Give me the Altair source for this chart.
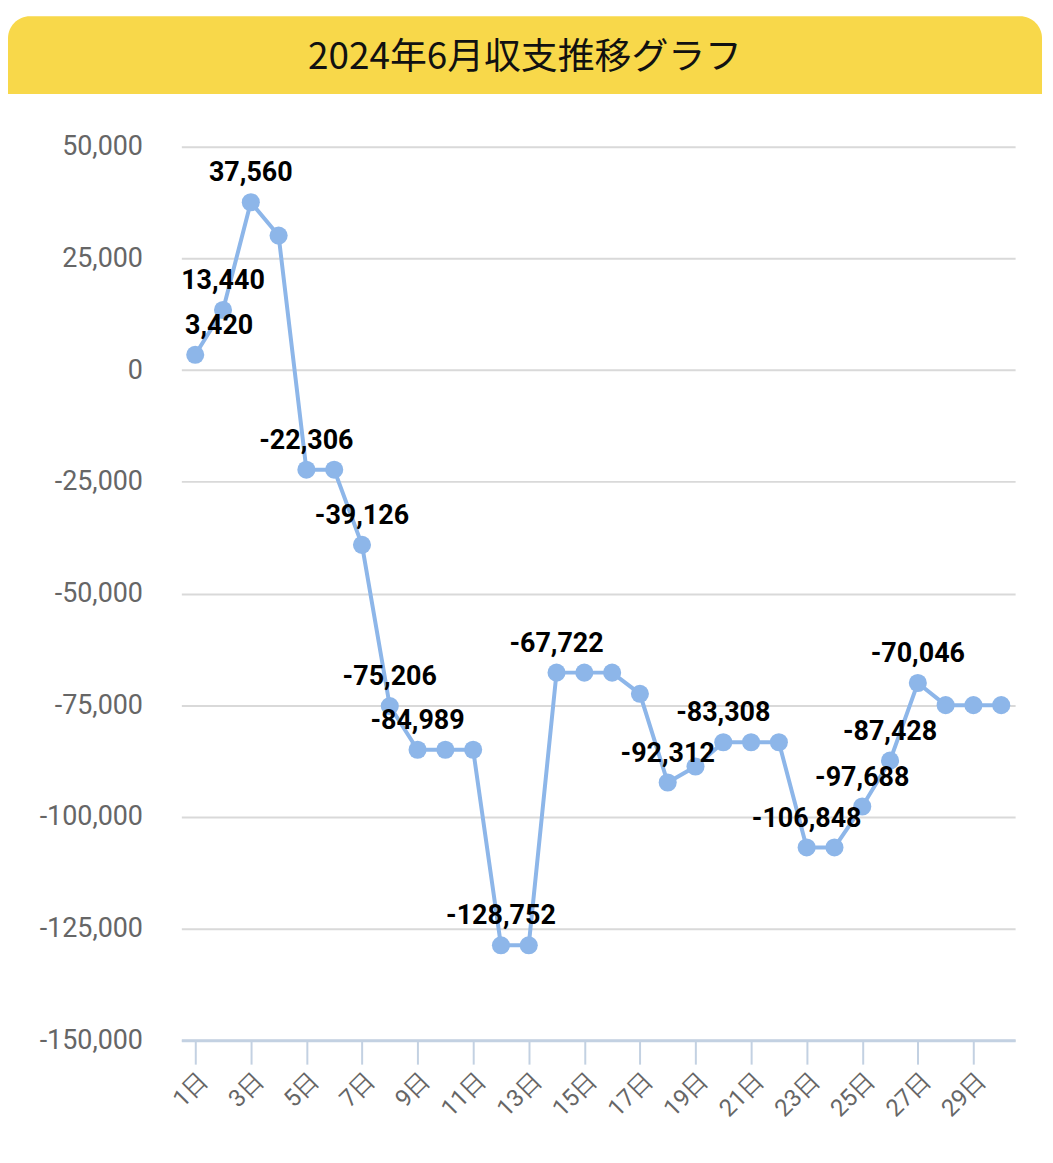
import altair as alt
import pandas as pd

title_text = "2024年6月収支推移グラフ"
days = list(range(1, 31))
values = [3420, 13440, 37560, 30100, -22306, -22306, -39126, -75206, -84989, -84989,
          -84989, -128752, -128752, -67722, -67722, -67722, -72460, -92312, -88740, -83308,
          -83308, -83308, -106848, -106848, -97688, -87428, -70046, -75000, -75000, -75000]
labeled_days = [1, 2, 3, 5, 7, 8, 9, 12, 14, 18, 20, 23, 25, 26, 27]
x_tick_days = list(range(1, 30, 2))
y_ticks = [50000, 25000, 0, -25000, -50000, -75000, -100000, -125000, -150000]

df = pd.DataFrame({"day": days, "value": values})
df["show"] = df["day"].isin(labeled_days)
df["label"] = [f"{v:,}" for v in values]

W, H = 837, 897
LINE_COLOR = "#8db6e9"

x_enc = alt.X("day:Q", scale=alt.Scale(domain=[0.5, 30.5], nice=False, zero=False),
              axis=alt.Axis(values=x_tick_days, labelExpr="datum.value + '日'", labelAngle=-45,
                            labelFontSize=24, labelColor="#666666", labelFont="Roboto",
                            tickColor="#c3d1e2", tickSize=24, tickWidth=2,
                            domainColor="#c3d1e2", domainWidth=3, grid=False,
                            labelPadding=4, title=None, labelOverlap=False))
y_enc = alt.Y("value:Q", scale=alt.Scale(domain=[-150000, 50000], nice=False),
              axis=alt.Axis(values=y_ticks,
                            labelExpr="replace(format(datum.value, ','), '\u2212', '-')",
                            labelFontSize=27, labelColor="#666666",
                            labelFont="Roboto", labelPadding=39, ticks=False, domain=False,
                            gridColor="#d9d9d9", gridWidth=2, title=None))

base = alt.Chart(df)
line = base.mark_line(color=LINE_COLOR, strokeWidth=4).encode(x=x_enc, y=y_enc)
pts = base.mark_circle(color=LINE_COLOR, opacity=1, size=330).encode(x="day:Q", y="value:Q")
labels = base.transform_filter("datum.show && datum.day > 1").mark_text(
    fontSize=27, fontWeight="bold", font="Roboto", color="#000000", dy=-29
).encode(x="day:Q", y="value:Q", text="label:N")
label_first = base.transform_filter("datum.show && datum.day == 1").mark_text(
    fontSize=27, fontWeight="bold", font="Roboto", color="#000000", dy=-29, dx=24
).encode(x="day:Q", y="value:Q", text="label:N")

tdf = pd.DataFrame({"t": [title_text]})
bar = alt.Chart(tdf).mark_rect(color="#f8d84a", cornerRadiusTopLeft=22, cornerRadiusTopRight=22).encode(
    x=alt.value(-174), x2=alt.value(864), y=alt.value(-131), y2=alt.value(-53))
title = alt.Chart(tdf).mark_text(fontSize=37, font="Noto Sans CJK JP", color="#111111",
                                  baseline="middle", align="center").encode(
    x=alt.value(345), y=alt.value(-89), text="t:N")

chart = alt.layer(bar, title, line, pts, labels, label_first).properties(
    width=W, height=H,
    autosize=alt.AutoSizeParams(type="none"),
    padding={"left": 174, "top": 137, "right": 30, "bottom": 110},
    background="#ffffff",
).configure_view(stroke=None)

chart.save("out.html", embed_options={"renderer": "svg", "actions": False})
